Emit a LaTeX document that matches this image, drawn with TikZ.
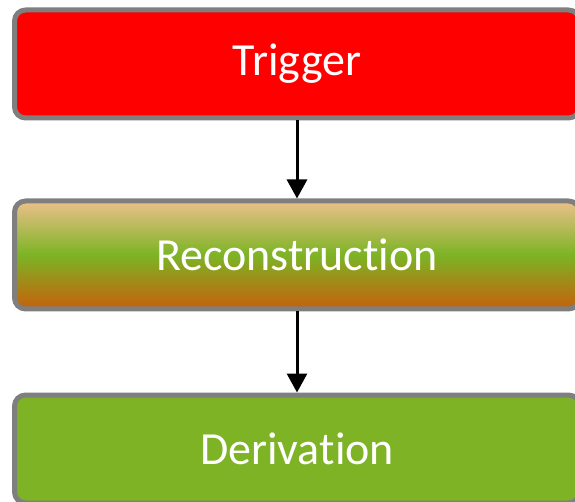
\documentclass[tikz,border=0pt]{standalone}
\usepackage{fontspec}
\setmainfont{Carlito}[Ligatures=NoCommon]
\usetikzlibrary{positioning,arrows.meta}
\definecolor{boxgray}{HTML}{7F7F7F}
\definecolor{recotop}{HTML}{EBC08A}
\definecolor{recomid}{HTML}{7CB424}
\definecolor{recobot}{HTML}{C7600C}
\definecolor{derivgreen}{HTML}{7DB324}
\tikzset{
  stagebox/.style={draw=boxgray, line width=5pt, rounded corners=11pt,
    minimum width=565pt, minimum height=108pt, text=white,
    font=\fontsize{46}{52}\selectfont},
  flowarrow/.style={line width=3pt, -{Triangle[width=20pt,length=19pt]}}
}
\begin{document}
\begin{tikzpicture}[line join=round, node distance=78pt]
\useasboundingbox (0,0) rectangle (575pt,-502pt);
\node[stagebox, fill=red] (trig) at (297pt,-64pt) {Trigger};
\node[stagebox, top color=recotop, bottom color=recobot, middle color=recomid,
      below=of trig] (reco) {Reconstruction};
\node[stagebox, fill=derivgreen, below=81pt of reco] (deriv) {Derivation};
\coordinate (out) at ([yshift=-60pt]deriv.south);
\draw[flowarrow] (trig) -- (reco);
\draw[flowarrow] (reco) -- (deriv);
\draw[flowarrow] (deriv) -- (out);
\end{tikzpicture}
\end{document}
